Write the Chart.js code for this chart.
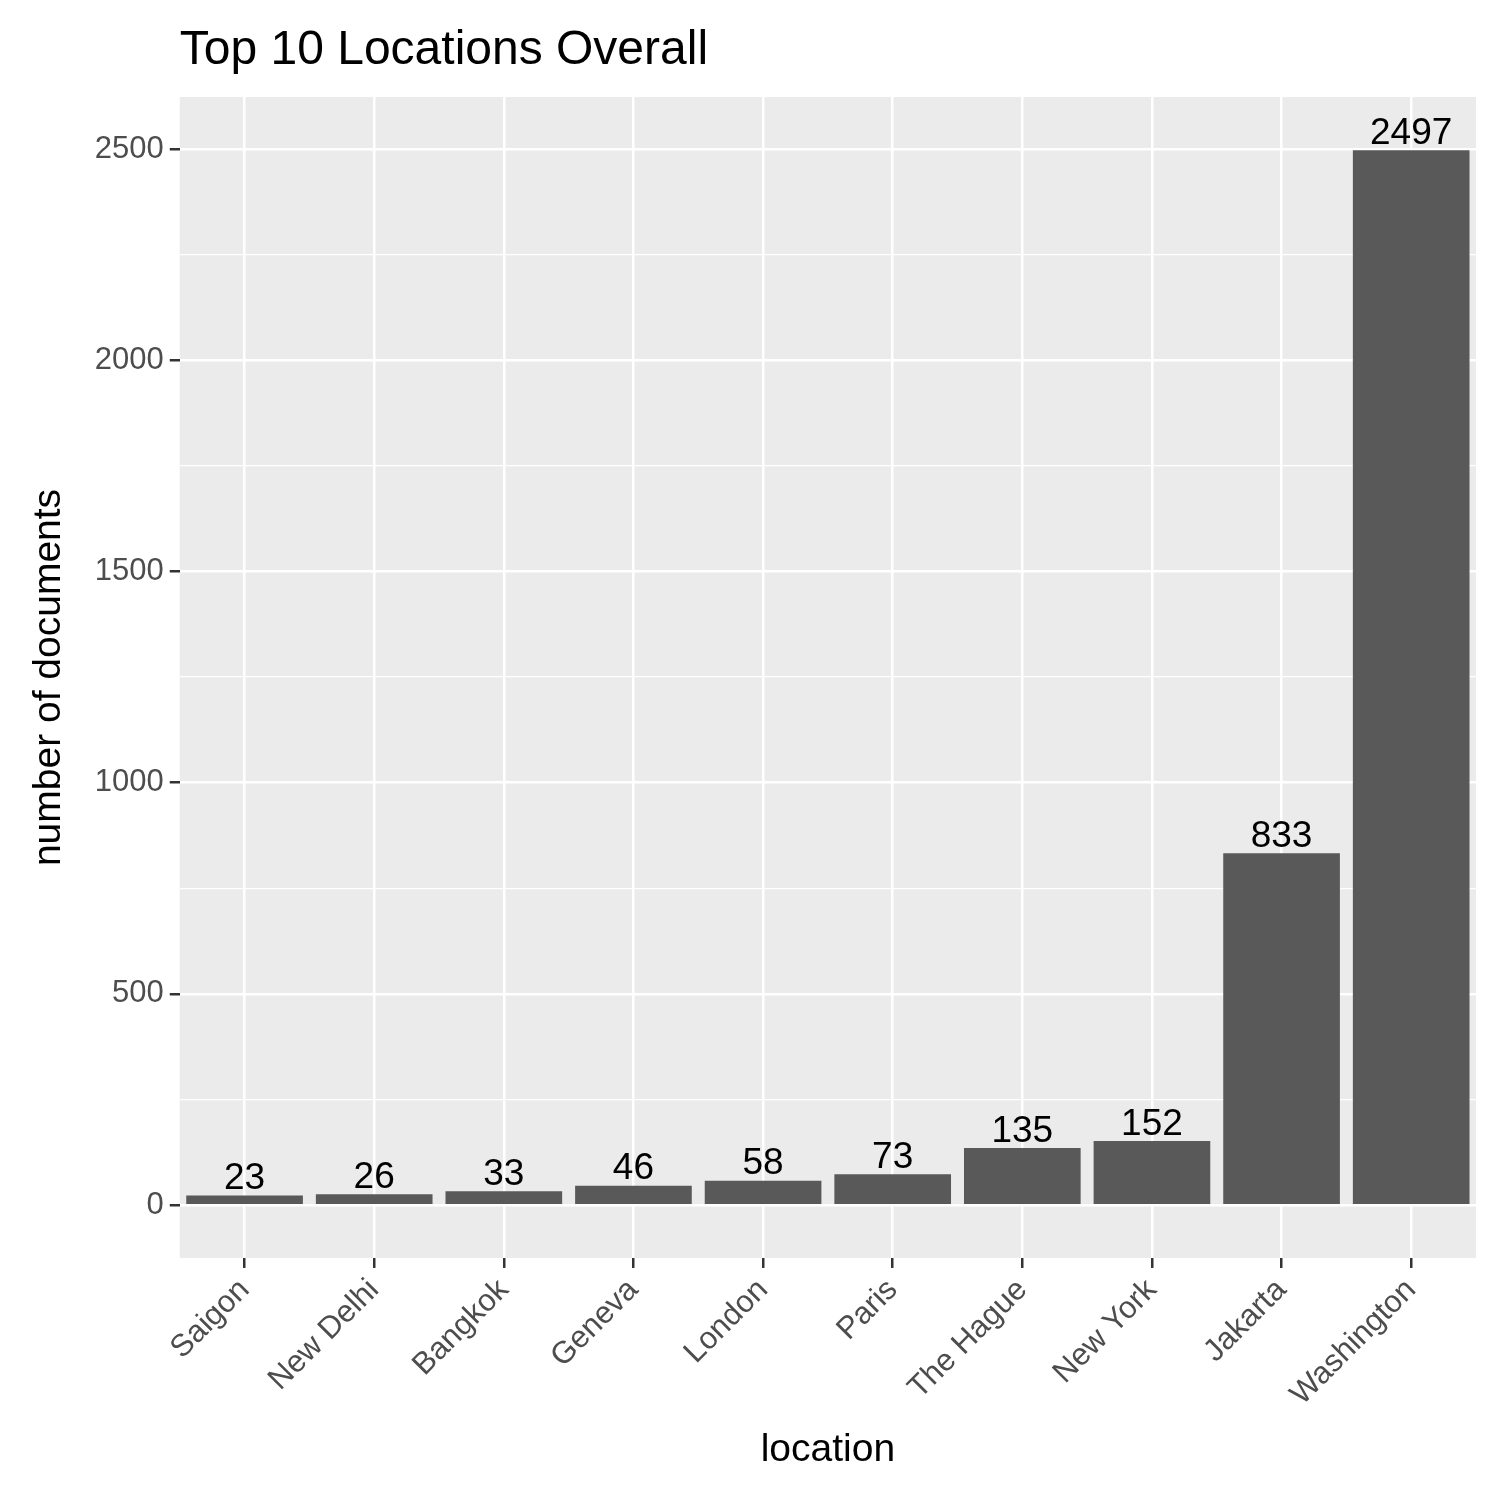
<!DOCTYPE html>
<html>
<head>
<meta charset="utf-8">
<script src="https://cdn.jsdelivr.net/npm/chart.js@4"></script>
<style>body{margin:0;background:#fff}</style>
</head>
<body>
<canvas id="chart" width="1500" height="1500"></canvas>
<script>
const locations = ["Saigon", "New Delhi", "Bangkok", "Geneva", "London", "Paris", "The Hague", "New York", "Jakarta", "Washington"];
const documentCounts = [23, 26, 33, 46, 58, 73, 135, 152, 833, 2497];
const yTicks = [0, 250, 500, 750, 1000, 1250, 1500, 1750, 2000, 2250, 2500];
const FONT = "'Liberation Sans', Arial, sans-serif";

const panelBg = {
  id: "panelBg",
  beforeDraw(chart) {
    const { ctx, chartArea: a } = chart;
    ctx.save();
    ctx.fillStyle = "#ebebeb";
    ctx.fillRect(a.left, a.top, a.right - a.left, a.bottom - a.top);
    ctx.restore();
  }
};

const extras = {
  id: "extras",
  afterDatasetsDraw(chart) {
    const { ctx, chartArea: a } = chart;
    const meta = chart.getDatasetMeta(0);
    ctx.save();
    ctx.fillStyle = "#000";
    ctx.font = "37px " + FONT;
    ctx.textAlign = "center";
    ctx.textBaseline = "bottom";
    meta.data.forEach((bar, i) => {
      ctx.fillText(documentCounts[i], bar.x, bar.y + 2);
    });
    ctx.font = "48px " + FONT;
    ctx.textAlign = "left";
    ctx.textBaseline = "alphabetic";
    ctx.fillText("Top 10 Locations Overall", a.left, 64);
    ctx.restore();
  }
};

new Chart(document.getElementById("chart"), {
  type: "bar",
  data: {
    labels: locations,
    datasets: [{
      data: documentCounts,
      backgroundColor: "#595959",
      categoryPercentage: 1,
      barPercentage: 0.9
    }]
  },
  options: {
    responsive: false,
    devicePixelRatio: 1,
    animation: false,
    layout: { padding: { top: 97, right: 24, left: 22, bottom: 22 } },
    plugins: { legend: { display: false }, tooltip: { enabled: false } },
    scales: {
      x: {
        grid: { offset: false, color: "#ffffff", lineWidth: 2.5, tickColor: "#333333", tickLength: 10 },
        border: { display: false },
        ticks: { color: "#4d4d4d", font: { size: 31, family: FONT }, maxRotation: 45, minRotation: 45, padding: 4 },
        title: { display: true, text: "location", color: "#000", font: { size: 39, family: FONT }, padding: { top: 10 } }
      },
      y: {
        min: -125,
        max: 2623,
        afterBuildTicks(scale) { scale.ticks = yTicks.map(v => ({ value: v })); },
        grid: {
          color: "#ffffff",
          lineWidth: ctx => (ctx.tick && ctx.tick.value % 500 === 0 ? 2.5 : 1.2),
          tickColor: ctx => (ctx.tick && ctx.tick.value % 500 === 0 ? "#333333" : "rgba(0,0,0,0)"),
          tickLength: 10
        },
        border: { display: false },
        ticks: {
          color: "#4d4d4d",
          font: { size: 31, family: FONT },
          padding: 6,
          callback: v => (v % 500 === 0 ? v : "")
        },
        title: { display: true, text: "number of documents", color: "#000", font: { size: 39, family: FONT }, padding: { bottom: 16 } }
      }
    }
  },
  plugins: [panelBg, extras]
});
</script>
</body>
</html>
